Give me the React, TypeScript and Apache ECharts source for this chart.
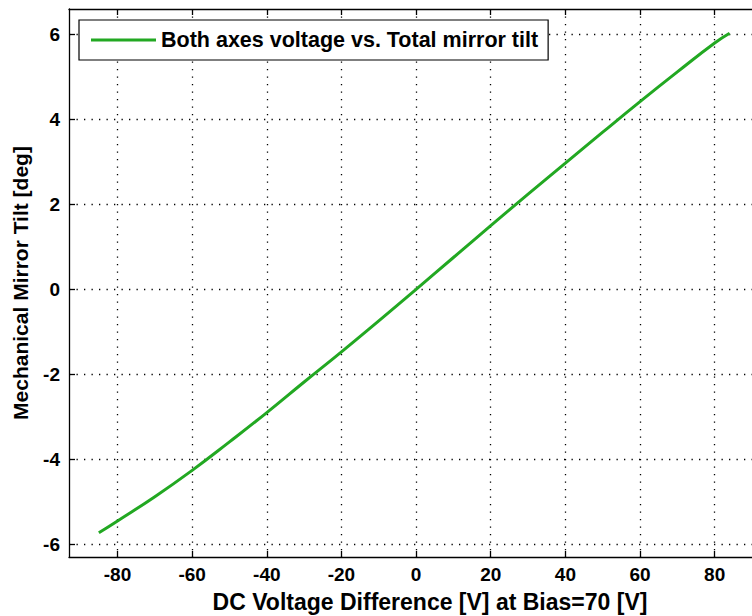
import React, { useEffect, useRef } from "react";
import * as echarts from "echarts";

const voltage = [-85, -80, -70, -60, -50, -40, -30, -20, -10, 0, 10, 20, 30, 40, 50, 60, 70, 80, 84];
const tilt = [-5.73, -5.45, -4.88, -4.26, -3.59, -2.9, -2.18, -1.47, -0.74, 0, 0.75, 1.5, 2.24, 2.97, 3.7, 4.42, 5.12, 5.8, 6.03];
const xTicks = [-80, -60, -40, -20, 0, 20, 40, 60, 80];
const yTicks = [-6, -4, -2, 0, 2, 4, 6];
const seriesName = "Both axes voltage vs. Total mirror tilt";
const xTitle = "DC Voltage Difference [V] at Bias=70 [V]";
const yTitle = "Mechanical Mirror Tilt [deg]";

const FONT = "'Liberation Sans', Arial, sans-serif";

export default function App() {
  const ref = useRef<HTMLDivElement>(null);
  useEffect(() => {
    document.body.style.margin = "0";
    const chart = echarts.init(ref.current!, null, { renderer: "svg" });
    const data = voltage.map((v, i) => [v, tilt[i]]);
    const grid = { left: 69, top: 9, right: 0, bottom: 59 };
    const dotted = { color: "#000", width: 1.3, type: [1.3, 6.2] };
    chart.setOption({
      animation: false,
      backgroundColor: "#fff",
      textStyle: { fontFamily: FONT },
      grid,
      legend: {
        data: [seriesName],
        left: 79,
        top: 20,
        orient: "horizontal",
        icon: "rect",
        itemWidth: 65,
        itemHeight: 3,
        padding: [9, 10, 9, 12],
        borderColor: "#000",
        borderWidth: 1.2,
        backgroundColor: "#fff",
        textStyle: { fontFamily: FONT, fontWeight: "bold", fontSize: 21.5, color: "#000", lineHeight: 20 },
      },
      xAxis: [
        {
          type: "value",
          min: -93,
          max: 90,
          position: "bottom",
          axisLine: { show: true, onZero: false, lineStyle: { color: "#000", width: 1.3 } },
          axisTick: { show: true, inside: true, length: 6, customValues: xTicks, lineStyle: { color: "#000", width: 1.3 } },
          axisLabel: { customValues: xTicks, color: "#000", fontWeight: "bold", fontSize: 19, fontFamily: FONT, margin: 8 },
          splitLine: { show: true, lineStyle: dotted },
        },
        {
          type: "value",
          min: -93,
          max: 90,
          position: "top",
          axisLine: { show: true, onZero: false, lineStyle: { color: "#000", width: 1.3 } },
          axisTick: { show: true, inside: true, length: 6, customValues: xTicks, lineStyle: { color: "#000", width: 1.3 } },
          axisLabel: { show: false },
          splitLine: { show: false },
        },
      ],
      yAxis: {
        type: "value",
        min: -6.3,
        max: 6.6,
        name: yTitle,
        nameLocation: "middle",
        nameGap: 38,
        nameRotate: 90,
        nameTextStyle: { color: "#000", fontWeight: "bold", fontSize: 21, fontFamily: FONT },
        axisLine: { show: true, onZero: false, lineStyle: { color: "#000", width: 1.3 } },
        axisTick: { show: true, inside: true, length: 6, customValues: yTicks, lineStyle: { color: "#000", width: 1.3 } },
        axisLabel: { customValues: yTicks, color: "#000", fontWeight: "bold", fontSize: 19, fontFamily: FONT, margin: 9 },
        splitLine: { show: true, lineStyle: dotted },
      },
      graphic: [
        {
          type: "text",
          x: 430,
          y: 602,
          style: {
            text: xTitle,
            fill: "#000",
            font: `bold 23px ${FONT}`,
            textAlign: "center",
            textVerticalAlign: "middle",
          },
        },
      ],
      series: [
        {
          name: seriesName,
          type: "line",
          data,
          smooth: true,
          showSymbol: false,
          color: "#22a822",
          lineStyle: { color: "#22a822", width: 3 },
        },
      ],
    });
    return () => chart.dispose();
  }, []);
  return <div ref={ref} style={{ width: 752, height: 616 }} />;
}
